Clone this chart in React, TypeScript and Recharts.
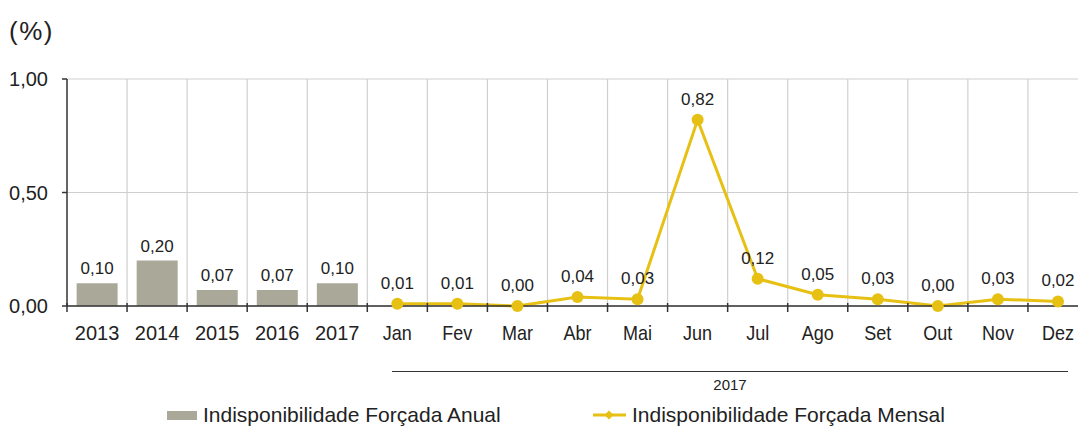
import {
  ComposedChart,
  CartesianGrid,
  XAxis,
  YAxis,
  Bar,
  Line,
  LabelList,
} from 'recharts'

const years = ['2013', '2014', '2015', '2016', '2017']
const anual = [0.1, 0.2, 0.07, 0.07, 0.1]
const months = ['Jan', 'Fev', 'Mar', 'Abr', 'Mai', 'Jun', 'Jul', 'Ago', 'Set', 'Out', 'Nov', 'Dez']
const mensal = [0.01, 0.01, 0.0, 0.04, 0.03, 0.82, 0.12, 0.05, 0.03, 0.0, 0.03, 0.02]
const yTicks = [0, 0.5, 1]

const data = [
  ...years.map((cat, i) => ({cat, anual: anual[i], mensal: null as number | null})),
  ...months.map((cat, i) => ({cat, anual: null as number | null, mensal: mensal[i]})),
]

const BAR = '#aaa899'
const GOLD = '#e7c014'
const TXT = '#222'
const arial = '"Liberation Sans", Arial, sans-serif'

const fmt = (v: any) => (v == null ? '' : Number(v).toFixed(2).replace('.', ','))

const XTick = (props: any) => {
  const {x, y, payload} = props
  const half = payload?.offset ?? 30
  const isYear = years.includes(payload.value)
  return (
    <g>
      <line x1={x - half} x2={x - half} y1={y - 3} y2={y + 6} stroke='#333' strokeWidth={1.5}/>
      <text x={x} y={y + 34} textAnchor='middle' fill={TXT} fontFamily={arial}
            fontSize={isYear ? 20 : 20}
            transform={isYear ? undefined : `translate(${x} 0) scale(0.9 1) translate(${-x} 0)`}>
        {payload.value}
      </text>
    </g>
  )
}

const gridX = ({offset}: any) => {
  const n = data.length
  return data.map((_, i) => offset.left + (i * offset.width) / n).slice(1)
}

export default function App() {
  return (
    <div style={{position: 'absolute', left: 0, top: 0, width: 1078, height: 428, overflow: 'hidden', background: '#fff'}}>
      <div style={{position: 'absolute', left: 9, top: 18, fontFamily: arial, fontSize: 26, lineHeight: 1, letterSpacing: 1.5, color: TXT}}>(%)</div>
      <ComposedChart width={1088} height={428} data={data}
                     margin={{top: 79, right: 0, left: 10, bottom: 92}}
                     barCategoryGap='16%'
      >
        <CartesianGrid stroke='#cfcfcf' strokeWidth={1.2} verticalCoordinatesGenerator={gridX}/>
        <XAxis dataKey='cat' interval={0} height={30} tickSize={0} tickMargin={0}
               tickLine={false} axisLine={{stroke: '#333', strokeWidth: 1.5}} tick={<XTick/>}/>
        <YAxis width={57} domain={[0, 1]} ticks={yTicks} tickFormatter={fmt} tickSize={5}
               axisLine={{stroke: '#333', strokeWidth: 1.5}} tickLine={{stroke: '#333', strokeWidth: 1.5}}
               tick={{fill: TXT, fontSize: 20, fontFamily: arial}} tickMargin={14}/>
        <Bar dataKey='anual' fill={BAR} isAnimationActive={false}>
          <LabelList dataKey='anual' position='top' offset={9} formatter={fmt}
                     style={{fill: TXT, fontSize: 17, fontFamily: arial}}/>
        </Bar>
        <Line dataKey='mensal' stroke={GOLD} strokeWidth={3} isAnimationActive={false}
              dot={{r: 6, fill: GOLD, stroke: GOLD, strokeWidth: 0}} activeDot={false}>
          <LabelList dataKey='mensal' position='top' offset={15} formatter={fmt}
                     style={{fill: TXT, fontSize: 17, fontFamily: arial}}/>
        </Line>
      </ComposedChart>
      <div style={{position: 'absolute', left: 392, top: 371, width: 676, height: 0, borderTop: '1.5px solid #333'}}/>
      <div style={{position: 'absolute', left: 700, top: 376, width: 60, textAlign: 'center', fontFamily: arial, fontSize: 15, color: TXT}}>2017</div>
      <div style={{position: 'absolute', left: 167, top: 403, display: 'flex', alignItems: 'center', fontFamily: arial, fontSize: 21, lineHeight: '24px', color: TXT}}>
        <span style={{display: 'inline-block', width: 30, height: 9, background: BAR, marginRight: 6}}/>
        Indisponibilidade Forçada Anual
      </div>
      <div style={{position: 'absolute', left: 593, top: 403, display: 'flex', alignItems: 'center', fontFamily: arial, fontSize: 21, lineHeight: '24px', color: TXT}}>
        <svg width={33} height={14} style={{marginRight: 6}}>
          <line x1={0} x2={33} y1={7} y2={7} stroke={GOLD} strokeWidth={3}/>
          <path d='M16 2.5 L20.5 7 L16 11.5 L11.5 7 Z' fill={GOLD}/>
        </svg>
        Indisponibilidade Forçada Mensal
      </div>
    </div>
  )
}
